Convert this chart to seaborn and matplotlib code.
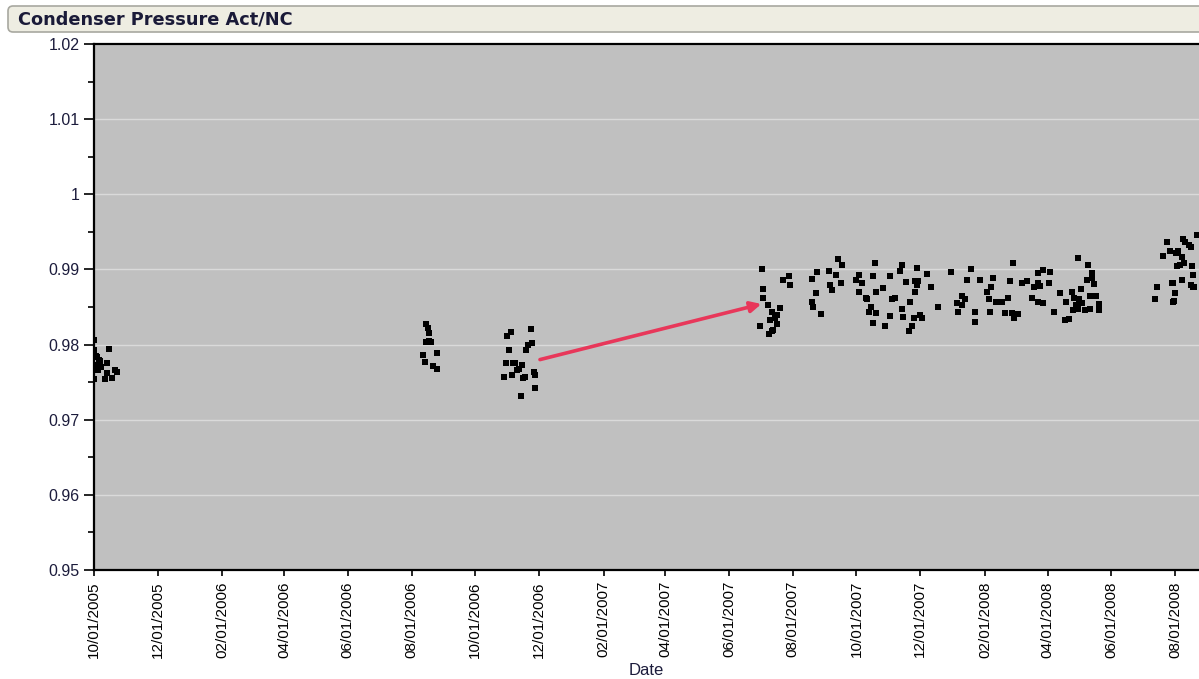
import pandas as pd
import seaborn as sns
import matplotlib.pyplot as plt
import matplotlib.dates as mdates
from matplotlib.patches import FancyBboxPatch
from matplotlib.ticker import MultipleLocator, FuncFormatter

# days since 10/01/2005 and the measured condenser pressure ratio
start_date = "2005-10-01"
days = [
    # Oct 2005
    0, 0, 2, 3, 5, 6, 2, 7, 4, 14, 12, 20, 12, 17, 11, 0, 22, 6,
    # Aug 2006
    318, 320, 321, 318, 323, 328, 315, 317, 325, 328, 321,
    # Nov 2006
    399, 395, 418, 419, 414, 397, 394, 401, 410, 405, 400, 411, 393,
    421, 422, 422, 409, 407, 413, 416, 403,
    # Jul 2007
    640, 641, 641, 645, 649, 654, 657, 647, 638, 654, 650, 646, 649,
    665, 660, 666, 652,
    # Aug 2007 - May 2008
    692, 687, 691, 687, 688, 696, 704, 712, 716, 710, 705, 707, 715,
    732, 730, 735, 732, 739, 740, 744, 742, 749, 746, 757, 762, 746,
    748, 749, 755, 762, 767, 774, 772, 777, 788, 786, 789, 788, 798,
    786, 801, 764, 781, 774, 775, 785, 791, 793, 783, 780, 808, 821,
    840, 836, 848, 861, 859, 855, 831, 834, 826, 831, 857, 864, 869,
    875, 827, 844, 858, 844, 872, 879, 881, 885, 880, 877, 889, 893,
    904, 909, 915, 904, 900, 906, 914, 898, 904, 909, 919, 925, 936,
    945, 931, 938, 943, 940, 946, 954, 959, 937, 942, 949, 954, 962,
    962, 930, 934, 942, 952, 956, 956, 951, 957,
    # Jul - Aug 2008
    1018, 1016, 1033, 1035, 1033, 1042, 1052, 1050, 1027, 1024, 1030,
    1036, 1042, 1040, 1044, 1050, 1045, 1053, 1043, 1056, 1048, 1038,
    1037, 1051, 1032, 1052, 1034,
]
pressure = [
    0.9806, 0.9793, 0.9785, 0.9783, 0.9780, 0.9778, 0.9773, 0.9770, 0.9766,
    0.9794, 0.9775, 0.9766, 0.9762, 0.9756, 0.9754, 0.9754, 0.9764, 0.9777,
    0.9827, 0.9822, 0.9816, 0.9803, 0.9803, 0.9789, 0.9786, 0.9777, 0.9771,
    0.9768, 0.9805,
    0.9817, 0.9811, 0.9821, 0.9802, 0.9793, 0.9793, 0.9776, 0.9776, 0.9773,
    0.9766, 0.9760, 0.9755, 0.9757, 0.9764, 0.9760, 0.9742, 0.9732, 0.9768,
    0.9757, 0.9799, 0.9776,
    0.9900, 0.9874, 0.9862, 0.9853, 0.9843, 0.9839, 0.9849, 0.9833, 0.9825,
    0.9827, 0.9819, 0.9814, 0.9818, 0.9891, 0.9886, 0.9879, 0.9835,
    0.9896, 0.9887, 0.9868, 0.9856, 0.9850, 0.9841, 0.9898, 0.9914, 0.9906,
    0.9893, 0.9879, 0.9873, 0.9882, 0.9893, 0.9886, 0.9882, 0.9870, 0.9862,
    0.9860, 0.9850, 0.9844, 0.9842, 0.9829, 0.9825, 0.9838, 0.9891, 0.9908,
    0.9870, 0.9875, 0.9891, 0.9862, 0.9906, 0.9898, 0.9883, 0.9902, 0.9884,
    0.9884, 0.9879, 0.9894, 0.9870, 0.9877, 0.9860, 0.9857, 0.9847, 0.9837,
    0.9835, 0.9839, 0.9835, 0.9825, 0.9818, 0.9850, 0.9897, 0.9901, 0.9886,
    0.9886, 0.9889, 0.9877, 0.9870, 0.9865, 0.9860, 0.9855, 0.9853, 0.9860,
    0.9857, 0.9856, 0.9862, 0.9844, 0.9844, 0.9844, 0.9830, 0.9842, 0.9842,
    0.9835, 0.9841, 0.9909, 0.9884, 0.9882, 0.9884, 0.9895, 0.9899, 0.9896,
    0.9882, 0.9877, 0.9878, 0.9882, 0.9862, 0.9857, 0.9855, 0.9844, 0.9869,
    0.9870, 0.9874, 0.9857, 0.9862, 0.9860, 0.9853, 0.9855, 0.9864, 0.9864,
    0.9846, 0.9848, 0.9846, 0.9847, 0.9854, 0.9846, 0.9833, 0.9834, 0.9915,
    0.9906, 0.9895, 0.9888, 0.9886, 0.9881,
    0.9876, 0.9860, 0.9882, 0.9868, 0.9857, 0.9886, 0.9893, 0.9879, 0.9937,
    0.9918, 0.9924, 0.9922, 0.9917, 0.9906, 0.9908, 0.9930, 0.9937, 0.9877,
    0.9941, 0.9946, 0.9933, 0.9924, 0.9905, 0.9905, 0.9882, 0.9877, 0.9858,
]

# annotation arrow: (day, value) of tail and head
arrow_start = (427, 0.9780)
arrow_end = (639, 0.9854)

x_end_day = 1058
y_min, y_max = 0.95, 1.02

title = "Condenser Pressure Act/NC"


def to_date(d):
    return pd.Timestamp(start_date) + pd.Timedelta(days=d)


def main():
    plt.rcParams['font.family'] = ['Liberation Sans', 'DejaVu Sans']

    df = pd.DataFrame({
        'Date': [to_date(d) for d in days],
        'Pressure': pressure,
    })

    fig = plt.figure(figsize=(11.99, 6.79), dpi=100)
    ax = fig.add_axes([94 / 1199, 1 - 570 / 679, 1105 / 1199, 526 / 679])
    ax.set_facecolor('#c0c0c0')

    sns.scatterplot(data=df, x='Date', y='Pressure', marker='s', color='black',
                    s=17, linewidth=0, ax=ax, zorder=3)

    ax.annotate('', xy=(to_date(arrow_end[0]), arrow_end[1]),
                xytext=(to_date(arrow_start[0]), arrow_start[1]),
                arrowprops=dict(arrowstyle='-|>', color='#e8375a', lw=2.6,
                                mutation_scale=16, shrinkA=0, shrinkB=0),
                zorder=4)

    ax.set_xlim(to_date(0), to_date(x_end_day))
    ax.set_ylim(y_min, y_max)

    ax.xaxis.set_major_locator(mdates.MonthLocator(bymonth=[2, 4, 6, 8, 10, 12]))
    ax.xaxis.set_major_formatter(mdates.DateFormatter('%m/%d/%Y'))
    ax.yaxis.set_major_locator(MultipleLocator(0.01))
    ax.yaxis.set_minor_locator(MultipleLocator(0.005))
    ax.yaxis.set_major_formatter(FuncFormatter(lambda v, p: f"{round(v, 2):g}"))

    ax.tick_params(axis='x', which='major', length=4.5, width=1.2, labelsize=11,
                   labelrotation=90, colors='black')
    ax.tick_params(axis='y', which='major', length=7, width=1.2, labelsize=11.5,
                   labelcolor='#1c1c3c')
    ax.tick_params(axis='y', which='minor', length=4, width=1.2)

    ax.grid(axis='y', color='#dadada', linewidth=1)
    ax.grid(axis='x', visible=False)
    ax.set_axisbelow(True)

    for side in ['left', 'bottom', 'top']:
        ax.spines[side].set_linewidth(1.6)
        ax.spines[side].set_color('black')
    ax.spines['right'].set_visible(False)

    ax.set_xlabel('Date', fontsize=12, labelpad=4, color='#1c1c3c')
    ax.set_ylabel('')

    # header bar
    bar = FancyBboxPatch((0.08, (679 - 32) / 100), 12.2, 0.26,
                         boxstyle='round,pad=0,rounding_size=0.05',
                         transform=fig.dpi_scale_trans, facecolor='#eeede2',
                         edgecolor='#a8a8a0', linewidth=1.2)
    fig.patches.append(bar)
    fig.text(18 / 1199, 1 - 19 / 679, title, fontsize=12.8, fontweight='bold',
             family='DejaVu Sans', color='#1a1a38', va='center', ha='left')

    fig.savefig('out.png', dpi=100)


if __name__ == "__main__":
    main()
